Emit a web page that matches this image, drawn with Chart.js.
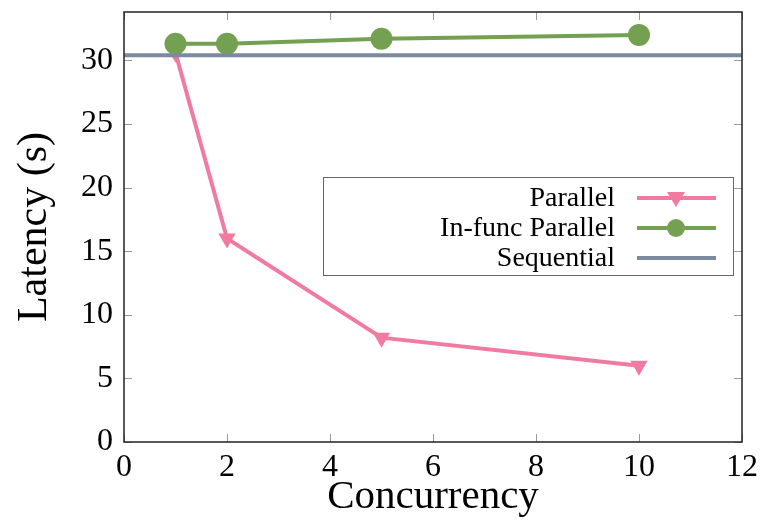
<!DOCTYPE html>
<html>
<head>
<meta charset="utf-8">
<script src="https://cdn.jsdelivr.net/npm/chart.js@4"></script>
<style>
  html, body { margin: 0; padding: 0; background: #fff; }
  #wrap { width: 768px; height: 522px; }
</style>
</head>
<body>
<div id="wrap"><canvas id="latency-chart" width="768" height="522"></canvas></div>
<script>
// values
const concurrency = [1, 2, 5, 10];
const parallelLatency = [30.6, 16.0, 8.2, 6.0];
const inFuncLatency = [31.3, 31.3, 31.7, 32.0];
const sequentialX = [0, 12];
const sequentialLatency = [30.4, 30.4];
const xTickValues = [0, 2, 4, 6, 8, 10, 12];
const yTickValues = [0, 5, 10, 15, 20, 25, 30];

const serif = '"Liberation Serif", "DejaVu Serif", serif';

function toPoints(xs, ys) {
    return xs.map((x, i) => ({ x: x, y: ys[i] }));
}

// frame with inward ticks on all four sides
const framePlugin = {
    id: 'frame',
    afterDraw(chart) {
        const ctx = chart.ctx;
        const a = chart.chartArea;
        const xs = chart.scales.x, ys = chart.scales.y;
        ctx.save();
        ctx.strokeStyle = '#9a9a9a';
        ctx.lineWidth = 1;
        ctx.beginPath();
        xTickValues.forEach(v => {
            const px = Math.round(xs.getPixelForValue(v)) + 0.5;
            ctx.moveTo(px, a.bottom); ctx.lineTo(px, a.bottom - 8);
            ctx.moveTo(px, a.top); ctx.lineTo(px, a.top + 8);
        });
        yTickValues.forEach(v => {
            const py = Math.round(ys.getPixelForValue(v)) + 0.5;
            ctx.moveTo(a.left, py); ctx.lineTo(a.left + 8, py);
            ctx.moveTo(a.right, py); ctx.lineTo(a.right - 8, py);
        });
        ctx.stroke();
        ctx.strokeStyle = '#222';
        ctx.lineWidth = 1.5;
        ctx.strokeRect(a.left, a.top, a.right - a.left, a.bottom - a.top);
        ctx.restore();
    }
};

// legend box: text right-aligned, sample on the right
const legendPlugin = {
    id: 'boxLegend',
    afterDraw(chart) {
        const ctx = chart.ctx;
        const box = { x: 323.5, y: 177.5, w: 410, h: 98 };
        ctx.save();
        ctx.fillStyle = '#fff';
        ctx.fillRect(box.x, box.y, box.w, box.h);
        ctx.strokeStyle = '#666';
        ctx.lineWidth = 1;
        ctx.strokeRect(box.x, box.y, box.w, box.h);
        ctx.font = '28px ' + serif;
        ctx.textAlign = 'right';
        ctx.textBaseline = 'middle';
        chart.data.datasets.forEach((ds, i) => {
            const y = 198 + i * 30;
            ctx.fillStyle = '#000';
            ctx.fillText(ds.label, 615, y + 1);
            ctx.strokeStyle = ds.borderColor;
            ctx.lineWidth = 4;
            ctx.beginPath();
            ctx.moveTo(637, y); ctx.lineTo(716, y);
            ctx.stroke();
            if (ds.pointRadius > 0) {
                ctx.fillStyle = ds.pointBackgroundColor;
                ctx.beginPath();
                if (ds.pointStyle === 'circle') {
                    ctx.arc(676, y, 9, 0, Math.PI * 2);
                } else {
                    ctx.moveTo(667, y - 6); ctx.lineTo(685, y - 6); ctx.lineTo(676, y + 9);
                    ctx.closePath();
                }
                ctx.fill();
            }
        });
        ctx.restore();
    }
};

new Chart(document.getElementById('latency-chart').getContext('2d'), {
    type: 'line',
    data: {
        datasets: [
            {
                label: 'Parallel',
                data: toPoints(concurrency, parallelLatency),
                borderColor: '#f07aa0',
                backgroundColor: '#f07aa0',
                pointBackgroundColor: '#f07aa0',
                pointBorderWidth: 0,
                pointStyle: 'triangle',
                rotation: 180,
                pointRadius: 10,
                borderWidth: 4,
                order: 3
            },
            {
                label: 'In-func Parallel',
                data: toPoints(concurrency, inFuncLatency),
                borderColor: '#74a052',
                backgroundColor: '#74a052',
                pointBackgroundColor: '#74a052',
                pointBorderWidth: 0,
                pointStyle: 'circle',
                pointRadius: 11,
                borderWidth: 4,
                order: 2
            },
            {
                label: 'Sequential',
                data: toPoints(sequentialX, sequentialLatency),
                borderColor: '#7b8aa0',
                backgroundColor: '#7b8aa0',
                pointRadius: 0,
                borderWidth: 4,
                order: 1
            }
        ]
    },
    options: {
        responsive: false,
        animation: false,
        layout: { padding: { top: 12, right: 26, left: 0, bottom: 0 } },
        plugins: {
            legend: { display: false },
            tooltip: { enabled: false }
        },
        scales: {
            x: {
                type: 'linear',
                min: 0,
                max: 12,
                grid: { display: false, drawTicks: false },
                border: { display: false },
                afterBuildTicks(scale) { scale.ticks = xTickValues.map(v => ({ value: v })); },
                afterFit(scale) { scale.height = 80; },
                ticks: {
                    color: '#000',
                    padding: 6,
                    font: { family: serif, size: 32 }
                },
                title: {
                    display: true,
                    text: 'Concurrency',
                    color: '#000',
                    padding: { top: 0, bottom: 0 },
                    font: { family: serif, size: 41 }
                }
            },
            y: {
                min: 0,
                max: 33.8,
                grid: { display: false, drawTicks: false },
                border: { display: false },
                afterBuildTicks(scale) { scale.ticks = yTickValues.map(v => ({ value: v })); },
                afterFit(scale) {
                    scale.width = 124;
                    scale.paddingTop = 0;
                    scale.paddingBottom = 0;
                },
                ticks: {
                    color: '#000',
                    padding: 11,
                    font: { family: serif, size: 32 }
                },
                title: {
                    display: true,
                    text: 'Latency (s)',
                    color: '#000',
                    padding: { top: 10, bottom: 0 },
                    font: { family: serif, size: 42 }
                }
            }
        }
    },
    plugins: [framePlugin, legendPlugin]
});
</script>
</body>
</html>
